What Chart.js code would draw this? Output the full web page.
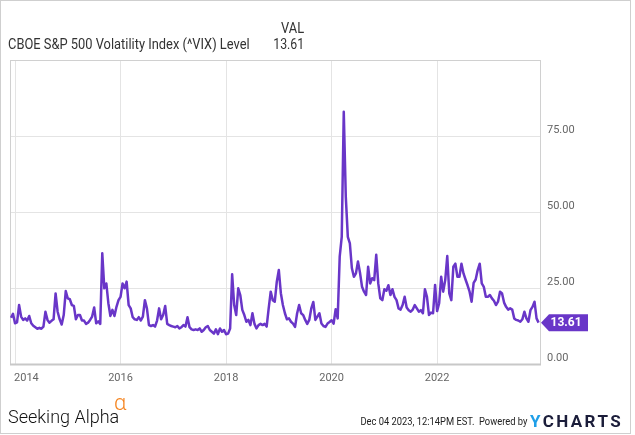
<!DOCTYPE html>
<html>
<head>
<meta charset="utf-8">
<script src="https://cdn.jsdelivr.net/npm/chart.js@4.4.0/dist/chart.umd.min.js"></script>
<style>
html, body { margin: 0; padding: 0; background: #fff; }
#wrap { position: relative; width: 635px; height: 435px; overflow: hidden; font-family: Roboto, sans-serif; }
#frame { position: absolute; left: 0; top: 0; width: 631px; height: 434px; box-sizing: border-box; border: 1px solid #cfcfcf; }
canvas { position: absolute; left: 0; top: 0; }
.t { position: absolute; white-space: nowrap; color: #333; font-size: 14px; line-height: 16px; }
#val { right: 331px; top: 20px; transform: scaleX(.92); transform-origin: right center; }
#name { left: 8px; top: 36px; transform: scaleX(.92); transform-origin: left center; }
#cur { right: 331px; top: 36px; transform: scaleX(.88); transform-origin: right center; }
#sa { left: 8px; top: 407px; font-size: 18px; line-height: 20px; font-weight: 300; color: #111; }
#alpha { left: 114px; top: 392px; font-size: 22px; line-height: 22px; font-weight: 300; color: #f5841f; }
#stamp { right: 108px; top: 415px; font-size: 11px; line-height: 13px; color: #222; transform: scaleX(.85); transform-origin: right center; }
#yc { left: 530px; top: 412px; font-size: 17px; line-height: 18px; font-weight: 700; letter-spacing: 2.4px; color: #1b1d3a; }
#yc span { color: #1f9fe8; }
</style>
</head>
<body>
<div id="wrap">
  <canvas id="myChart" width="635" height="435"></canvas>
  <div id="frame"></div>
  <div class="t" id="val">VAL</div>
  <div class="t" id="name">CBOE S&amp;P 500 Volatility Index (^VIX) Level</div>
  <div class="t" id="cur">13.61</div>
  <div class="t" id="sa">Seeking Alpha</div>
  <div class="t" id="alpha">α</div>
  <div class="t" id="stamp">Dec 04 2023, 12:14PM EST.&nbsp; Powered by</div>
  <div class="t" id="yc"><span>Y</span>CHARTS</div>
</div>
<script>
// ticks
const xTicks = [2014, 2016, 2018, 2020, 2022]
const yTicks = [0, 25, 50, 75, 100]

// VIX level, about every two weeks (26 slots a year)
const vix2013 = [15.2, 16.5]
const vix2014 = [13.4, 13.7, 19.4, 15.6, 14.5, 15.0, 14.3, 15.8, 13.4, 12.6, 12.1, 11.6, 11.9, 11.6, 12.3, 17.2, 14.5, 13.6, 14.2, 14.7, 23.2, 17.2, 14.7, 13.0, 16.1, 24.0]
const vix2015 = [21.6, 21.3, 19.4, 19.1, 14.7, 16.1, 16.1, 14.3, 14.3, 13.2, 13.6, 14.5, 15.6, 18.6, 13.4, 14.0, 13.2, 36.4, 24.9, 26.5, 20.0, 15.8, 17.8, 15.8, 18.8, 21.0]
const vix2016 = [22.1, 26.5, 24.9, 27.1, 19.4, 18.3, 15.4, 14.7, 14.5, 15.4, 14.3, 15.6, 21.0, 18.3, 12.8, 12.5, 12.8, 12.3, 14.3, 18.3, 14.7, 16.1, 19.1, 13.2, 12.8, 12.5]
const vix2017 = [12.3, 12.1, 12.5, 11.7, 12.1, 12.8, 12.3, 15.4, 12.1, 11.4, 11.2, 11.4, 11.2, 11.7, 10.6, 11.2, 12.1, 12.5, 11.2, 10.6, 10.0, 11.4, 9.8, 11.7, 10.6, 11.2]
const vix2018 = [9.8, 10.0, 11.7, 29.5, 19.4, 16.1, 24.9, 22.7, 17.8, 16.1, 13.9, 14.5, 12.8, 16.7, 13.2, 11.7, 12.8, 13.2, 12.8, 13.2, 12.3, 18.3, 23.8, 21.0, 20.5, 27.1]
const vix2019 = [30.9, 23.3, 19.4, 16.7, 14.7, 15.0, 13.9, 13.3, 12.2, 16.6, 19.4, 16.7, 16.1, 14.5, 13.2, 14.5, 18.3, 20.4, 14.5, 15.6, 16.7, 13.3, 12.5, 12.2, 13.3, 13.8]
const vix2020 = [14.4, 13.3, 18.0, 15.0, 35.3, 41.8, 83.0, 55.0, 41.8, 39.7, 31.5, 28.7, 29.8, 33.7, 30.0, 25.4, 23.8, 22.7, 32.0, 26.5, 28.2, 27.6, 35.9, 26.5, 21.6, 21.0]
const vix2021 = [24.6, 24.1, 25.9, 22.7, 24.6, 22.1, 21.0, 18.3, 17.9, 19.4, 22.1, 18.6, 17.7, 17.2, 17.9, 19.4, 18.3, 17.2, 17.7, 16.7, 24.6, 22.1, 16.1, 16.9, 16.7, 26.0]
const vix2022 = [17.4, 20.0, 28.7, 23.8, 27.6, 35.5, 23.2, 21.0, 32.0, 33.0, 28.7, 28.7, 33.0, 29.8, 27.8, 25.9, 23.8, 20.5, 26.7, 27.8, 30.9, 33.0, 26.5, 25.4, 22.1, 22.1]
const vix2023 = [22.7, 21.6, 20.8, 19.4, 20.5, 23.8, 23.2, 20.2, 18.8, 17.9, 18.3, 17.9, 15.0, 14.5, 14.3, 13.9, 14.7, 17.2, 15.0, 13.9, 17.7, 18.8, 20.5, 15.0, 13.61]

const years = [2013, 2014, 2015, 2016, 2017, 2018, 2019, 2020, 2021, 2022, 2023]
const yearValues = [vix2013, vix2014, vix2015, vix2016, vix2017, vix2018, vix2019, vix2020, vix2021, vix2022, vix2023]
const firstSlot = [24, 0, 0, 0, 0, 0, 0, 0, 0, 0, 0]
const lastValue = 13.61

const purple = '#6936c8'

const points = []
years.forEach((yr, k) => {
    yearValues[k].forEach((v, i) => {
        points.push({x: yr + (firstSlot[k] + i) / 26, y: v})
    })
})

const framePlugin = {
    id: 'frame',
    beforeDatasetsDraw(chart) {
        const {ctx, chartArea: a} = chart
        ctx.save()
        ctx.strokeStyle = '#d0d0d0'
        ctx.lineWidth = 1
        ctx.strokeRect(a.left + 0.5, a.top + 0.5, a.right - a.left, a.bottom - a.top)
        ctx.strokeStyle = '#c8c8c8'
        ctx.lineWidth = 2
        ctx.beginPath()
        ctx.moveTo(a.left, a.bottom + 0.5)
        ctx.lineTo(a.right + 1, a.bottom + 0.5)
        ctx.stroke()
        ctx.restore()
    },
    afterDraw(chart) {
        const {ctx, chartArea: a} = chart
        const xs = chart.scales.x
        ctx.save()
        // year labels, the first one kept inside the plot
        ctx.font = '11px Roboto'
        ctx.fillStyle = '#666'
        ctx.textBaseline = 'middle'
        xTicks.forEach((t, i) => {
            const px = xs.getPixelForValue(t)
            ctx.textAlign = i === 0 ? 'left' : 'center'
            ctx.fillText(String(t), i === 0 ? px - 1 : px, a.bottom + 14)
        })
        // tag with the last value
        const y = chart.scales.y.getPixelForValue(lastValue)
        const r = a.right
        ctx.fillStyle = purple
        ctx.beginPath()
        ctx.moveTo(r + 1, y)
        ctx.lineTo(r + 9, y - 8.5)
        ctx.lineTo(r + 48, y - 8.5)
        ctx.lineTo(r + 48, y + 8.5)
        ctx.lineTo(r + 9, y + 8.5)
        ctx.closePath()
        ctx.fill()
        ctx.fillStyle = '#fff'
        ctx.font = 'bold 12px Roboto'
        ctx.textAlign = 'left'
        ctx.fillText(lastValue.toFixed(2), r + 10.5, y + 0.5)
        ctx.restore()
    }
}

const ctx = document.getElementById('myChart')
new Chart(ctx, {
    type: 'line',
    data: {
        datasets: [{
            data: points,
            borderColor: purple,
            borderWidth: 2.5,
            borderJoinStyle: 'round',
            pointRadius: 0,
            tension: 0,
            fill: false
        }]
    },
    options: {
        responsive: false,
        animation: false,
        layout: {padding: {left: 10, top: 60, right: 0, bottom: 0}},
        plugins: {legend: {display: false}, tooltip: {enabled: false}},
        scales: {
            x: {
                type: 'linear',
                min: 2013.905,
                max: 2023.95,
                afterBuildTicks: s => { s.ticks = xTicks.map(v => ({value: v})) },
                afterFit: s => { s.height = 71 },
                grid: {color: '#e4e4e4', drawTicks: false},
                border: {display: false},
                ticks: {display: false}
            },
            y: {
                position: 'right',
                min: 0,
                max: 100,
                afterBuildTicks: s => { s.ticks = yTicks.map(v => ({value: v})) },
                afterFit: s => { s.width = 95 },
                grid: {color: '#e4e4e4', drawTicks: false},
                border: {display: false},
                ticks: {
                    padding: 7,
                    labelOffset: -6,
                    color: '#666',
                    font: {family: 'Roboto', size: 11},
                    callback: v => v === 100 ? '' : v.toFixed(2)
                }
            }
        }
    },
    plugins: [framePlugin]
})
</script>
</body>
</html>
